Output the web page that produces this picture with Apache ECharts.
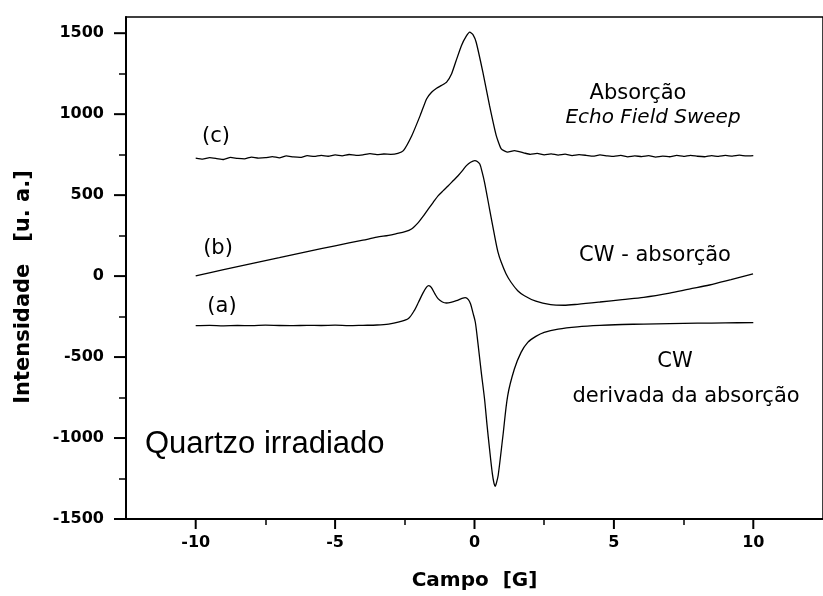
<!DOCTYPE html>
<html>
<head>
<meta charset="utf-8">
<script src="https://cdn.jsdelivr.net/npm/echarts@6/dist/echarts.min.js"></script>
<style>
  html, body { margin: 0; padding: 0; background: #fff; }
  #main { width: 823px; height: 596px; }
</style>
</head>
<body>
<div id="main"></div>
<script>
// (c) absorção, echo field sweep
var cField = [-10, -9.75, -9.5, -9.25, -9, -8.75, -8.5, -8.25, -8, -7.75, -7.5, -7.25, -7, -6.75, -6.5, -6.25,
  -6, -5.75, -5.5, -5.25, -5, -4.75, -4.5, -4.25, -4, -3.75, -3.5, -3.25, -3, -2.75,
  -2.55, -2.25, -1.95, -1.72, -1.54, -1.36, -1.18, -1.0, -0.82, -0.66, -0.47, -0.3, -0.17, -0.05, 0.06, 0.3, 0.54,
  0.78, 0.96, 1.19, 1.43, 1.79,
  2, 2.25, 2.5, 2.75, 3, 3.25, 3.5, 3.75, 4, 4.25, 4.5, 4.75, 5, 5.25, 5.5, 5.75, 6, 6.25, 6.5, 6.75,
  7, 7.25, 7.5, 7.75, 8, 8.25, 8.5, 8.75, 9, 9.25, 9.5, 9.75, 10];
var cInt = [728, 722, 731, 726, 720, 733, 727, 724, 735, 729, 731, 738, 730, 742, 736, 733,
  744, 739, 746, 740, 748, 743, 751, 745, 749, 756, 750, 754, 752, 758,
  775, 867, 991, 1094, 1135, 1160, 1178, 1198, 1250, 1330, 1423, 1480, 1506, 1490, 1444, 1259, 1052,
  867, 785, 765, 775, 760,
  752, 758, 749, 755, 747, 753, 744, 750, 746, 741, 748, 743, 739, 745, 736, 742, 738, 744, 735, 741,
  737, 745, 739, 746, 740, 737, 744, 739, 745, 741, 747, 742, 744];

// (b) CW absorção
var bField = [-10, -9, -8, -7, -6, -5, -4, -3.5, -3.08, -2.8, -2.49, -2.26, -2.01, -1.83, -1.66, -1.48,
  -1.3, -1.12, -0.94, -0.76, -0.59, -0.44, -0.29, -0.14, 0.01, 0.1, 0.19, 0.27, 0.36, 0.54, 0.72, 0.84,
  0.96, 1.13, 1.31, 1.55, 1.79, 2.2, 2.73, 3.2, 3.69, 4.5, 5.3, 6.07, 7, 7.7, 8.43, 9.2, 9.99];
var bInt = [2, 40, 77, 114, 151, 187, 222, 240, 252, 262, 274, 291, 332, 372, 414, 456,
  497, 528, 558, 590, 620, 650, 682, 703, 713, 708, 692, 645, 579, 414, 250, 150,
  85, 15, -38, -90, -121, -155, -176, -180, -174, -160, -145, -131, -105, -80, -55, -22, 13];

// (a) CW derivada da absorção
var aField = [-10, -9.5, -9, -8.5, -8, -7.5, -7, -6.5, -6, -5.5, -5, -4.5, -4, -3.5, -3.08, -2.7,
  -2.37, -2.15, -2.01, -1.85, -1.72, -1.64, -1.55, -1.42, -1.3, -1.15, -1.01, -0.85, -0.65, -0.45, -0.33, -0.22,
  -0.14, -0.05, 0.03, 0.12, 0.24, 0.36, 0.45, 0.54, 0.64, 0.7, 0.74, 0.79, 0.85, 1.02, 1.19, 1.43,
  1.67, 1.91, 2.2, 2.5, 3, 3.69, 4.5, 5.3, 6.07, 7, 8, 9, 10];
var aInt = [-306, -304, -307, -305, -306, -303, -305, -306, -304, -305, -303, -306, -304, -302, -296, -282,
  -262, -210, -162, -105, -68, -59, -70, -110, -141, -160, -166, -162, -152, -138, -133, -145,
  -172, -230, -285, -409, -590, -759, -920, -1068, -1220, -1280, -1298, -1275, -1230, -986, -739, -574,
  -471, -409, -372, -347, -327, -313, -304, -299, -296, -294, -291, -289, -287];

var xMajorTicks = [-10, -5, 0, 5, 10];
var xMinorTicks = [-7.5, -2.5, 2.5, 7.5];
var yMajorTicks = [-1500, -1000, -500, 0, 500, 1000, 1500];
var yMinorTicks = [-1250, -750, -250, 250, 750, 1250];

var X_MIN = -12.5, X_MAX = 12.5, Y_MIN = -1500, Y_MAX = 1600;

function pairs(xs, ys) {
  return xs.map(function (x, i) { return [x, ys[i]]; });
}

// axis that only carries short ticks (no labels)
function tickAxis(min, max, pos, values, len) {
  return {
    type: 'value', min: min, max: max, position: pos, gridIndex: 0,
    axisLine: { show: false, onZero: false },
    axisTick: { show: true, length: len, customValues: values, lineStyle: { color: '#000', width: 1.5 } },
    axisLabel: { show: false },
    splitLine: { show: false }
  };
}

// long ticks drawn through the axes' scales (custom series, outside the grid)
function majorTicks(points, dx, dy) {
  return {
    type: 'custom', data: points, clip: false, silent: true, z: 10,
    encode: { x: 0, y: 1 },
    renderItem: function (params, api) {
      var p = api.coord([api.value(0), api.value(1)]);
      return { type: 'line', shape: { x1: p[0], y1: p[1], x2: p[0] + dx, y2: p[1] + dy },
        style: { stroke: '#000', lineWidth: 2 } };
    }
  };
}

var chart = echarts.init(document.getElementById('main'));
var tickFont = { fontFamily: 'DejaVu Sans', fontWeight: 'bold', fontSize: 16, color: '#000' };
var plain = function (v) { return String(v); };

chart.setOption({
  animation: false,
  backgroundColor: '#fff',
  grid: {
    left: 126, right: -6, top: 17, bottom: 76,
    show: true, borderColor: '#000', borderWidth: 1.5, backgroundColor: 'transparent'
  },
  xAxis: [{
    type: 'value', min: X_MIN, max: X_MAX,
    name: 'Campo  [G]', nameLocation: 'middle', nameGap: 52,
    nameTextStyle: { fontFamily: 'DejaVu Sans', fontWeight: 'bold', fontSize: 20, color: '#000' },
    axisLine: { show: true, onZero: false, lineStyle: { color: '#000', width: 2 } },
    axisTick: { show: false },
    axisLabel: Object.assign({ margin: 16, customValues: xMajorTicks, formatter: plain }, tickFont),
    splitLine: { show: false }
  },
    tickAxis(X_MIN, X_MAX, 'bottom', xMinorTicks, 6)
  ],
  yAxis: [{
    type: 'value', min: Y_MIN, max: Y_MAX,
    axisLine: { show: true, onZero: false, lineStyle: { color: '#000', width: 2 } },
    axisTick: { show: false },
    axisLabel: Object.assign({ margin: 22, customValues: yMajorTicks, formatter: plain }, tickFont),
    splitLine: { show: false }
  },
    tickAxis(Y_MIN, Y_MAX, 'left', yMinorTicks, 7)
  ],
  series: [
    { name: '(c)', type: 'line', data: pairs(cField, cInt), showSymbol: false, smooth: 0.15,
      lineStyle: { color: '#000', width: 1.3 } },
    { name: '(b)', type: 'line', data: pairs(bField, bInt), showSymbol: false, smooth: 0.3,
      lineStyle: { color: '#000', width: 1.3 } },
    { name: '(a)', type: 'line', data: pairs(aField, aInt), showSymbol: false, smooth: 0.3,
      lineStyle: { color: '#000', width: 1.3 } },
    majorTicks(xMajorTicks.map(function (v) { return [v, Y_MIN]; }), 0, 10),
    majorTicks(yMajorTicks.map(function (v) { return [X_MIN, v]; }), -12, 0)
  ],
  graphic: [
    { type: 'text', x: 24, y: 287, rotation: Math.PI / 2,
      style: { text: 'Intensidade   [u. a.]', font: 'bold 21px "DejaVu Sans"', fill: '#000', align: 'center', verticalAlign: 'middle' } },
    { type: 'text', x: 216, y: 137, style: { text: '(c)', font: '21px "DejaVu Sans"', fill: '#000', align: 'center', verticalAlign: 'middle' } },
    { type: 'text', x: 218, y: 249, style: { text: '(b)', font: '21px "DejaVu Sans"', fill: '#000', align: 'center', verticalAlign: 'middle' } },
    { type: 'text', x: 222, y: 307, style: { text: '(a)', font: '21px "DejaVu Sans"', fill: '#000', align: 'center', verticalAlign: 'middle' } },
    { type: 'text', x: 638, y: 94, style: { text: 'Absorção', font: '21px "DejaVu Sans"', fill: '#000', align: 'center', verticalAlign: 'middle' } },
    { type: 'text', x: 653, y: 118, style: { text: 'Echo Field Sweep', font: 'italic 20px "DejaVu Sans"', fill: '#000', align: 'center', verticalAlign: 'middle' } },
    { type: 'text', x: 655, y: 256, style: { text: 'CW - absorção', font: '21px "DejaVu Sans"', fill: '#000', align: 'center', verticalAlign: 'middle' } },
    { type: 'text', x: 675, y: 362, style: { text: 'CW', font: '21px "DejaVu Sans"', fill: '#000', align: 'center', verticalAlign: 'middle' } },
    { type: 'text', x: 686, y: 397, style: { text: 'derivada da absorção', font: '21px "DejaVu Sans"', fill: '#000', align: 'center', verticalAlign: 'middle' } },
    { type: 'text', x: 145, y: 444, style: { text: 'Quartzo irradiado', font: '31px "Liberation Sans"', fill: '#000', align: 'left', verticalAlign: 'middle' } }
  ]
});
</script>
</body>
</html>
